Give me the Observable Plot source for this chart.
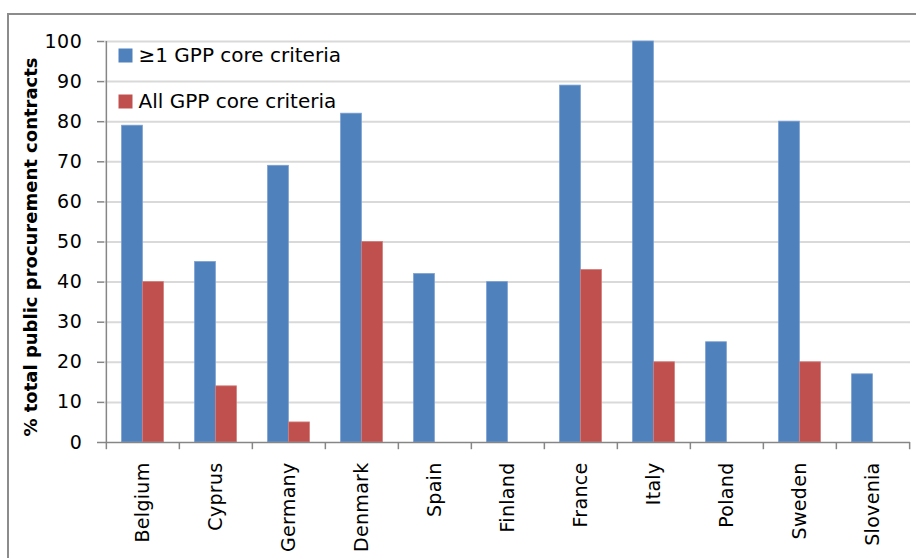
<!DOCTYPE html>
<html>
<head>
<meta charset="utf-8">
<script src="https://cdn.jsdelivr.net/npm/d3@7"></script>
<script src="https://cdn.jsdelivr.net/npm/@observablehq/plot@0.6"></script>
<style>
  html, body { margin: 0; padding: 0; background: #fff; }
  #wrap { position: relative; width: 916px; height: 558px; overflow: hidden; }
  #border { position: absolute; left: 7px; top: 13px; right: 0; bottom: 0;
            border-left: 2px solid #8c8c8c; border-top: 2px solid #8c8c8c; }
  #chart { position: absolute; left: 0; top: 0; }
  #chart svg g[aria-label="y-axis tick label"] text { letter-spacing: 0.6px; }
  #chart svg g[aria-label="x-axis tick label"] text { letter-spacing: 0.3px; }
</style>
</head>
<body>
<div id="wrap"><div id="border"></div><div id="chart"></div></div>
<script>
const countries = ["Belgium","Cyprus","Germany","Denmark","Spain","Finland","France","Italy","Poland","Sweden","Slovenia"];
const atLeastOne = [79, 45, 69, 82, 42, 40, 89, 100, 25, 80, 17];
const allCriteria = [40, 14, 5, 50, null, null, 43, 20, null, 20, null];
const seriesNames = ["≥1 GPP core criteria", "All GPP core criteria"];
const seriesColors = ["#4F81BD", "#C0504D"];
const yTicks = [0, 10, 20, 30, 40, 50, 60, 70, 80, 90, 100];
const yTitle = "% total public procurement contracts";

const W = 916, H = 558, mL = 104, mR = 6, mT = 41, mB = 116;
const step = (W - mL - mR) / countries.length;
const barW = step * 0.287;
const outer = (step - 2 * barW) / 2;

const d1 = countries.map((c, i) => ({country: c, value: atLeastOne[i]}));
const d2 = countries.map((c, i) => ({country: c, value: allCriteria[i]})).filter(d => d.value != null);

const font = "DejaVu Sans, Verdana, sans-serif";
const axisGray = "#868686";

const legendMarks = seriesNames.flatMap((name, i) => [
  Plot.dot([name], {frameAnchor: "top-left", dx: 21, dy: 14 + 46 * i, symbol: "square", r: 7.9, fill: seriesColors[i], stroke: "none"}),
  Plot.text([name], {text: d => d, frameAnchor: "top-left", dx: 34, dy: 14 + 46 * i, textAnchor: "start", lineAnchor: "middle", fontSize: 20, fill: "#000"})
]);

const chart = Plot.plot({
  width: W, height: H,
  marginLeft: mL, marginRight: mR, marginTop: mT, marginBottom: mB,
  style: {fontFamily: font, fontSize: "19px", color: "#000", background: "transparent"},
  x: {type: "band", domain: countries, padding: 0, label: null},
  y: {domain: [0, 100], label: null},
  marks: [
    Plot.ruleY(yTicks.slice(1), {stroke: "#d9d9d9", strokeWidth: 2}),
    Plot.barY(d1, {x: "country", y: "value", fill: seriesColors[0], stroke: "#7a9fd0", strokeWidth: 0.8, insetLeft: outer, insetRight: outer + barW}),
    Plot.barY(d2, {x: "country", y: "value", fill: seriesColors[1], stroke: "#d07a78", strokeWidth: 0.8, insetLeft: outer + barW, insetRight: outer}),
    Plot.ruleY([0], {stroke: axisGray, strokeWidth: 1.5}),
    Plot.ruleX(countries, {x: d => d, dx: -step / 2, y1: -1.8, y2: 0, stroke: axisGray, strokeWidth: 1.5}),
    Plot.ruleX([countries[countries.length - 1]], {x: d => d, dx: step / 2, y1: -1.8, y2: 0, stroke: axisGray, strokeWidth: 1.5}),
    Plot.ruleX([countries[0]], {x: d => d, dx: -step / 2, y1: 0, y2: 100, stroke: axisGray, strokeWidth: 1.5}),
    Plot.axisY({ticks: yTicks, tickSize: 7, tickPadding: 15, stroke: axisGray, strokeWidth: 1.5, fill: "#000", label: null, fontSize: 19}),
    Plot.axisX({tickSize: 0, tickRotate: -90, tickPadding: 20, label: null, fill: "#000", fontSize: 19}),
    Plot.text([yTitle], {text: d => d, frameAnchor: "left", textAnchor: "middle", lineAnchor: "middle", dx: -73, dy: 5, rotate: -90, fontWeight: "bold", fontSize: 18, fill: "#000"}),
    ...legendMarks
  ]
});
document.getElementById("chart").appendChild(chart);
</script>
</body>
</html>
